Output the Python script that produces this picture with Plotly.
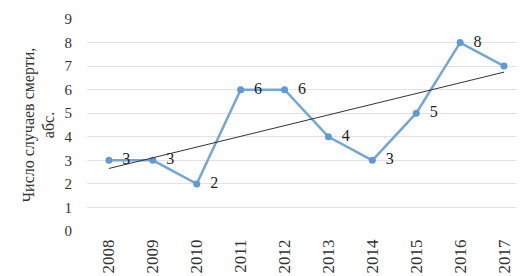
import numpy as np
import plotly.graph_objects as go

years = ["2008", "2009", "2010", "2011", "2012", "2013", "2014", "2015", "2016", "2017"]
deaths = [3, 3, 2, 6, 6, 4, 3, 5, 8, 7]
y_ticks = [0, 1, 2, 3, 4, 5, 6, 7, 8, 9]

# Linear trend (as in the spreadsheet trendline)
xi = np.arange(len(years))
slope, intercept = np.polyfit(xi, deaths, 1)
trend = slope * xi + intercept

FONT = "Liberation Serif"

fig = go.Figure()
fig.add_trace(go.Scatter(
    x=years, y=deaths, mode="lines+markers+text",
    line=dict(color="#72A7DC", width=2.5),
    marker=dict(color="#5F9AD4", size=7),
    text=["  " + str(v) for v in deaths], textposition="middle right",
    textfont=dict(family=FONT, size=16, color="#222"),
    cliponaxis=False, showlegend=False,
))
fig.add_trace(go.Scatter(
    x=years, y=trend, mode="lines",
    line=dict(color="#333333", width=1),
    showlegend=False,
))

fig.update_layout(
    width=525, height=276,
    margin=dict(l=79, r=7, t=11, b=53),
    paper_bgcolor="white", plot_bgcolor="white",
    font=dict(family=FONT, size=14, color="#333"),
    xaxis=dict(
        type="category", range=[-0.5, 9.5], automargin=False,
        tickangle=-90, showgrid=False, zeroline=False,
        showline=False, ticks="", tickfont=dict(size=17, family=FONT),
        ticklabelstandoff=4,
    ),
    yaxis=dict(
        range=[0, 9], tickvals=y_ticks, showgrid=True, automargin=False,
        gridcolor="#E3E3E3", gridwidth=1, zeroline=False,
        ticks="", tickfont=dict(size=15, family=FONT),
        ticklabelstandoff=14,
        title=dict(text="Число случаев смерти,<br>абс.", font=dict(size=16, family=FONT), standoff=5),
    ),
)

fig.write_html("out.html")
